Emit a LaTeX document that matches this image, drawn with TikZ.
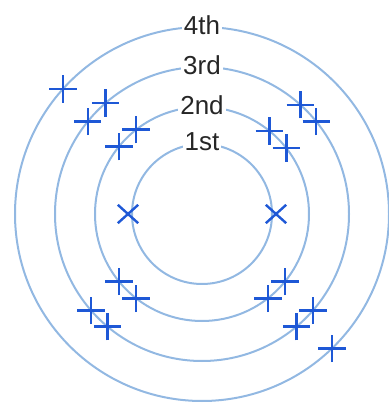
\documentclass[tikz,border=0pt]{standalone}
\usepackage{fontspec}
\setmainfont{Liberation Sans}
\usepackage{tikz}
\usetikzlibrary{shapes.misc}
\definecolor{shellblue}{RGB}{146,184,226}
\definecolor{markblue}{RGB}{30,88,214}

\begin{document}
\begin{tikzpicture}[
    x=1pt, y=1pt,
    shell/.style={circle, draw=shellblue, line width=2pt, inner sep=0pt, outer sep=0pt},
    lbl/.style={fill=white, inner sep=2pt, text=black!85, font=\fontsize{26}{30}\selectfont, yshift=2pt},
    pluselec/.style={cross out, rotate=45, draw=markblue, line width=2.4pt, minimum size=17pt, inner sep=0pt},
    crosselec/.style={cross out, draw=markblue, line width=2.4pt, minimum width=18pt, minimum height=16pt, inner sep=0pt}
]
\useasboundingbox (-202,-189) rectangle (186,214);
% shells
\node[shell, minimum size=140pt] (s1) at (0,0) {};
\node[shell, minimum size=214pt] (s2) at (0,0) {};
\node[shell, minimum size=294pt] (s3) at (0,0) {};
\node[shell, minimum size=374pt] (s4) at (0,0) {};
\node[lbl] (l1) at (s1.north) {1st};
\node[lbl] (l2) at (s2.north) {2nd};
\node[lbl] (l3) at (s3.north) {3rd};
\node[lbl] (l4) at (s4.north) {4th};
% 1st shell
\node[crosselec] (x1) at (180:74) {};
\node[crosselec] (x2) at (0:74) {};
% 2nd shell
\node[pluselec] (p2a) at (s2.141.5) {};
\node[pluselec] (p2b) at (s2.128.5) {};
\node[pluselec] (p2c) at (s2.51.5) {};
\node[pluselec] (p2d) at (s2.38.5) {};
\node[pluselec] (p2e) at (s2.219.5) {};
\node[pluselec] (p2f) at (s2.232.5) {};
\node[pluselec] (p2g) at (s2.308.5) {};
\node[pluselec] (p2h) at (s2.321.5) {};
% 3rd shell
\node[pluselec] (p3a) at (s3.141.4) {};
\node[pluselec] (p3b) at (s3.131.9) {};
\node[pluselec] (p3c) at (s3.48.6) {};
\node[pluselec] (p3d) at (s3.39.3) {};
\node[pluselec] (p3e) at (s3.221.5) {};
\node[pluselec] (p3f) at (s3.230.7) {};
\node[pluselec] (p3g) at (s3.310.2) {};
\node[pluselec] (p3h) at (s3.319.3) {};
% 4th shell
\node[pluselec] (p4a) at (s4.138.5) {};
\node[pluselec] (p4b) at (s4.314.8) {};
\end{tikzpicture}
\end{document}
